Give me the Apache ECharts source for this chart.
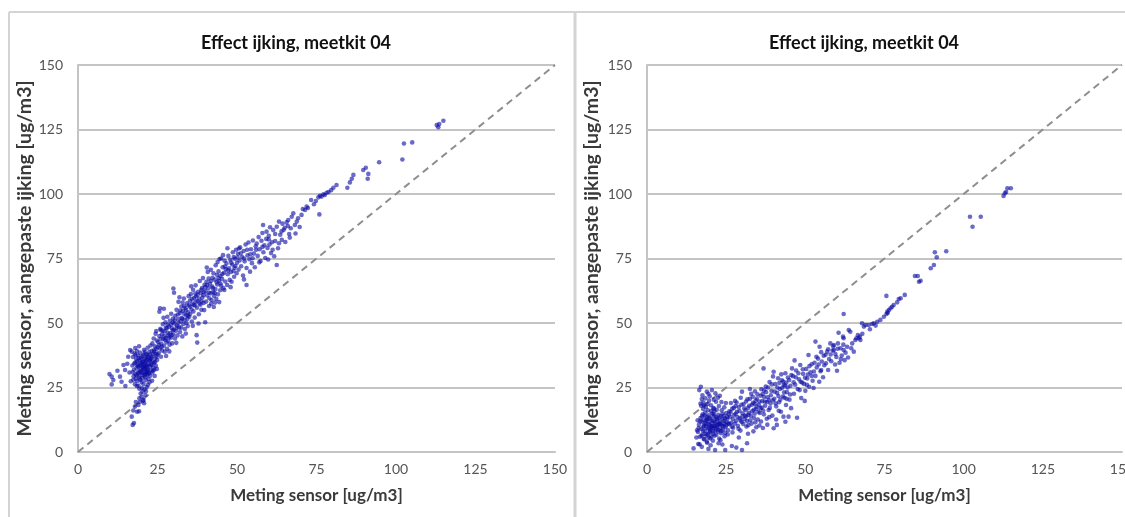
<!DOCTYPE html>
<html>
<head>
<meta charset="utf-8">
<script src="https://cdn.jsdelivr.net/npm/echarts@6/dist/echarts.min.js"></script>
<style>
  html, body { margin: 0; padding: 0; background: #ffffff; }
  #chart { width: 1125px; height: 517px; }
</style>
</head>
<body>
<div id="chart"></div>
<script>
// Two scatter panels: sensor reading (x) vs. reading with adjusted calibration (y)
const panelTitle = 'Effect ijking, meetkit 04';
const xAxisTitle = 'Meting sensor [ug/m3]';
const yAxisTitle = 'Meting sensor, aangepaste ijking [ug/m3]';
const axisMin = 0;
const axisMax = 150;
const axisStep = 25;
const identityLine = [[0, 0], [150, 150]];

// Left panel: [sensor, calibrated]
const leftPoints = [
  [9.9,30.2],[10.6,29.2],[11.1,27.9],[10.6,26.2],[13.7,27.2],[13.2,29.2],[14.8,31.8],[14.3,33.7],[16.4,39.5],[15.8,36.9],
  [16.9,38.9],[12.4,31.5],[14.9,25.6],[15.5,34.2],[16.2,30.8],[16.6,27.4],[17.2,10.5],[17.6,11.2],[16.9,13.7],[18.6,15.6],
  [17.9,17.6],[19.0,18.2],[19.5,19.5],[20.0,21.4],[19.7,22.7],[20.3,23.4],[20.8,18.9],[19.3,20.8],[17.4,16.1],[18.2,19.4],
  [20.6,20.2],[21.2,22.1],[20.9,24.2],[21.4,23.6],[20.1,24.8],[19.2,15.8],[21.6,25.2],[20.4,19.8],
  [17.1,33.5],[17.3,36.8],[17.5,29.4],[17.6,31.9],[17.8,38.2],[17.9,26.3],[18.0,34.7],[18.1,30.1],[18.2,28.4],[18.3,36.0],
  [18.4,32.6],[18.5,39.1],[18.6,27.5],[18.7,34.0],[18.8,30.9],[18.9,37.4],[19.0,25.8],[19.1,33.1],[19.2,29.3],[19.3,35.5],
  [19.4,31.4],[19.5,38.5],[19.6,27.9],[19.7,34.4],[19.8,32.2],[19.9,36.6],[17.4,28.0],[18.0,40.3],[18.6,35.2],[19.2,41.0],
  [20.0,30.6],[20.1,33.9],[20.2,28.7],[20.3,37.2],[20.4,31.8],[20.5,35.0],[20.6,26.4],[20.7,33.0],[20.8,39.6],[20.9,29.6],
  [21.0,36.1],[21.1,32.5],[21.2,34.6],[21.3,27.8],[21.4,38.0],[21.5,31.0],[21.6,35.8],[21.7,33.6],[21.8,29.9],[21.9,40.4],
  [22.0,32.0],[22.1,36.9],[22.2,34.2],[22.3,30.4],[22.4,38.7],[22.5,27.0],[22.6,35.4],[22.7,33.1],[22.8,41.3],[22.9,31.6],
  [20.2,34.8],[20.6,32.4],[21.0,30.2],[21.4,33.3],[21.8,37.5],[22.2,28.3],[20.9,31.1],[21.3,35.3],[21.7,31.7],[22.6,37.8],
  [23.0,36.4],[23.1,33.8],[23.2,39.2],[23.3,30.8],[23.4,42.1],[23.5,35.1],[23.6,37.9],[23.7,32.7],[23.8,44.0],[23.9,34.6],
  [24.0,38.8],[24.1,29.5],[24.2,41.0],[24.3,36.2],[24.4,45.8],[24.5,33.4],[24.6,39.9],[24.7,37.0],[24.8,43.2],[24.9,35.7],
  [25.0,40.6],[23.3,27.6],[24.0,31.9],[24.6,46.9],[25.0,37.8],
  [17.2,31.0],[17.7,34.3],[18.1,37.6],[18.4,29.7],[18.8,33.2],[19.1,36.4],[19.4,28.6],[19.7,31.0],[20.0,35.9],[20.3,29.9],
  [20.6,37.8],[20.9,34.0],[21.2,29.0],[21.5,36.6],[21.8,32.8],[22.1,30.9],[22.4,35.6],[22.7,29.6],[23.0,33.9],[23.3,37.0],
  [23.6,31.5],[23.9,39.4],[24.2,34.8],[24.5,38.1],[24.8,32.2],[19.0,30.4],[20.4,33.0],[21.6,30.4],[22.8,36.1],[19.6,33.6],
  [21.0,38.8],[18.5,25.6],[20.0,27.1],[22.0,26.0],[19.3,24.5],
  [25.2,42.6],[25.4,38.4],[25.6,44.9],[25.8,40.1],[25.6,54.4],[25.8,55.7],[26.0,47.3],[26.1,36.9],[26.2,42.0],[26.4,45.6],
  [26.5,39.3],[26.7,49.5],[26.8,43.8],[27.0,41.2],[27.0,55.5],[27.2,46.7],[27.3,38.9],[27.5,50.3],[27.6,44.2],[27.8,42.5],
  [27.9,47.9],[28.0,40.0],[28.1,52.4],[28.3,45.1],[28.4,43.0],[28.6,48.6],[28.8,41.6],[28.9,50.9],[29.0,46.0],[29.2,44.3],
  [29.3,53.6],[29.5,48.0],[29.6,42.1],[29.8,50.2],[30.0,63.4],[30.2,61.7],[30.0,45.5],[30.1,47.4],[25.9,47.8],[26.9,52.0],
  [27.4,43.5],[28.2,49.3],[28.7,39.0],[29.4,45.3],[26.3,40.8],[27.7,37.2],[29.9,51.7],
  [30.3,49.8],[30.5,44.0],[30.6,52.8],[30.8,47.0],[31.0,55.1],[31.1,49.0],[31.3,45.2],[31.5,51.5],[31.6,58.2],[31.8,48.3],
  [32.0,53.9],[32.1,46.5],[32.3,50.7],[32.5,56.4],[32.6,52.0],[32.8,44.8],[33.0,54.7],[33.1,49.6],[33.3,59.5],[33.5,51.2],
  [33.6,47.7],[33.8,55.8],[34.0,53.0],[34.1,50.0],[34.3,57.6],[34.5,48.8],[34.6,54.1],[34.8,60.4],[35.0,52.4],[30.9,42.3],
  [31.9,60.0],[32.9,57.9],[33.9,45.9],[34.9,56.9],[31.4,53.3],[32.4,48.2],[33.4,53.6],[34.4,51.6],
  [25.5,41.5],[26.0,43.9],[26.6,47.0],[27.1,44.9],[27.6,48.1],[28.2,46.2],[28.7,44.6],[29.2,49.4],[29.8,47.1],[30.4,51.0],
  [31.0,48.2],[31.6,50.0],[32.2,54.8],[32.8,51.6],[33.4,56.5],[34.0,55.0],[34.6,52.8],
  [35.2,58.6],[35.3,53.6],[35.5,61.2],[35.7,55.3],[35.8,50.6],[36.0,57.5],[36.2,62.9],[36.3,54.5],[36.5,59.7],[36.7,52.1],
  [36.8,56.8],[37.0,64.6],[37.1,60.3],[37.3,45.3],[37.5,42.4],[37.4,55.9],[37.6,58.5],[37.8,62.1],[38.0,53.4],[38.1,59.4],
  [38.3,66.3],[38.5,57.1],[38.6,61.6],[38.8,55.1],[39.0,63.5],[39.1,59.9],[39.3,67.4],[39.5,57.8],[39.6,61.9],[39.8,64.8],
  [40.0,50.3],[36.1,48.9],[36.9,61.4],[37.9,49.8],[38.9,58.4],[39.7,55.0],[35.6,64.2],
  [35.2,56.3],[35.8,59.3],[36.4,57.0],[37.0,58.2],[37.6,60.9],[38.2,57.6],[38.8,62.9],[39.4,60.8],
  [40.1,62.4],[40.3,58.3],[40.4,66.0],[40.6,60.7],[40.8,69.8],[41.0,63.6],[41.2,56.6],[41.3,59.6],[41.5,65.2],[41.7,61.5],
  [41.8,70.6],[42.0,58.9],[42.2,64.1],[42.3,67.5],[42.5,62.0],[42.7,56.2],[42.8,60.5],[43.0,66.8],[43.2,63.2],[43.3,72.4],
  [43.5,59.3],[43.7,68.7],[43.8,64.9],[44.0,61.1],[44.2,70.0],[44.3,66.4],[44.5,74.8],[44.7,62.7],[44.8,68.2],[45.0,75.0],
  [40.5,71.5],[41.9,57.5],[43.1,57.9],[44.4,58.1],[42.6,69.3],[41.1,67.2],[43.9,73.6],[45.0,64.4],
  [40.0,63.9],[40.6,64.7],[41.2,61.8],[41.8,66.3],[42.4,63.5],[43.0,61.6],[43.6,65.8],[44.2,67.4],[44.8,65.3],
  [45.3,67.1],[45.5,71.6],[45.7,63.5],[45.9,69.5],[46.1,74.1],[46.3,66.1],[46.5,70.8],[46.7,73.1],[46.9,64.7],[47.1,68.9],
  [47.3,76.0],[47.5,71.2],[47.7,66.7],[47.9,74.5],[48.1,69.8],[48.3,66.0],[48.5,72.7],[48.7,77.4],[48.9,70.2],[49.1,67.9],
  [49.3,74.9],[49.5,72.1],[49.7,78.4],[49.9,69.3],[46.0,62.8],[47.0,79.0],[48.0,63.9],[49.0,75.6],[50.0,73.4],[45.6,76.3],
  [45.4,69.0],[46.2,71.9],[47.2,70.4],[48.2,73.4],[49.2,71.4],
  [50.3,76.8],[50.5,70.7],[50.8,74.2],[51.0,79.3],[51.3,72.0],[51.6,75.6],[51.9,68.4],[52.1,77.9],[52.4,73.9],[52.7,80.4],
  [53.0,64.7],[53.0,71.3],[53.3,76.2],[53.6,81.2],[53.9,74.7],[54.1,69.9],[54.4,78.6],[54.7,73.2],[55.0,82.0],[55.3,76.9],
  [55.6,71.6],[55.9,79.7],[50.6,78.9],[52.2,66.9],[54.9,75.1],
  [50.2,75.4],[51.2,77.0],[52.2,75.0],[53.2,78.4],[54.2,76.6],
  [56.2,80.8],[56.5,76.0],[56.8,83.3],[57.1,78.6],[57.4,74.0],[57.7,81.9],[58.0,84.9],[58.3,77.4],[58.6,80.1],[58.9,75.2],
  [59.2,82.6],[59.3,85.4],[59.6,79.1],[60.0,83.8],[60.4,87.1],[60.7,77.1],[61.0,81.3],[61.4,86.0],[61.7,75.9],[62.0,84.5],
  [62.5,72.5],[62.5,87.3],[62.9,79.0],[63.2,80.9],[63.2,89.3],[57.0,73.5],[59.8,74.6],[61.2,78.4],[58.2,88.0],[60.2,80.4],
  [56.0,78.4],[58.0,79.5],[60.0,82.4],[62.0,81.8],
  [63.6,84.2],[64.1,82.2],[64.3,88.5],[64.7,86.1],[65.2,81.4],[65.6,89.0],[66.1,89.9],[66.4,84.5],[66.9,86.7],[67.2,91.2],
  [67.7,92.5],[68.2,88.0],[68.8,89.3],[68.4,84.7],[69.2,90.6],[69.7,87.2],[70.3,91.9],[70.7,94.2],[71.4,93.8],[71.9,95.1],
  [72.3,94.6],[73.3,97.7],[74.2,96.0],[65.0,86.9],[66.6,83.1],[64.0,85.5],[66.0,87.6],
  [75.6,98.7],[75.9,92.1],[76.1,99.3],[76.6,99.0],[77.2,99.9],[77.6,99.6],[78.2,100.5],[78.8,100.8],[79.6,101.5],[80.3,102.4],
  [81.3,103.5],[84.7,102.4],[85.5,104.5],[86.1,105.9],[86.6,107.4],[89.7,109.3],[90.5,110.2],[91.3,107.8],[91.1,105.9],[94.7,112.3],
  [102.0,113.4],[102.5,119.6],[105.1,120.0],[112.8,126.7],[113.3,125.9],[113.6,127.1],[114.9,128.4],[74.8,97.3]
];

// Right panel: [sensor, calibrated]
const rightPoints = [
  [17.0,25.3],[16.5,24.0],[18.9,23.4],[20.5,24.0],[17.3,20.5],[17.8,19.2],[18.4,20.8],[19.1,18.6],[19.6,19.9],[20.2,18.1],
  [17.1,17.9],[18.6,17.4],[21.1,20.3],[21.8,19.5],[22.4,21.0],[20.9,17.0],[16.9,18.8],[19.8,21.6],[22.7,17.8],[23.5,19.4],
  [14.7,1.4],[17.3,2.0],[21.5,0.8],[24.7,0.8],[30.0,0.8],[31.6,3.4],[26.8,2.3],[22.6,3.4],[18.9,4.0],[16.2,3.1],
  [15.6,5.6],[20.1,2.6],[19.4,1.2],[23.8,2.9],[28.2,1.7],
  [16.1,7.8],[16.4,10.6],[16.7,5.9],[16.9,13.2],[17.1,8.9],[17.3,11.7],[17.5,6.8],[17.6,14.6],[17.8,9.7],[18.0,12.4],
  [18.1,4.9],[18.3,8.1],[18.4,15.3],[18.6,10.9],[18.8,6.4],[18.9,13.6],[19.1,9.1],[19.2,11.9],[19.4,5.5],[19.5,14.2],
  [19.7,7.6],[19.8,10.4],[20.0,12.9],[20.1,8.6],[20.3,6.0],[20.4,11.2],[20.6,14.9],[20.7,9.4],[20.9,7.1],[21.0,12.2],
  [21.2,10.0],[21.3,15.7],[21.5,8.3],[21.6,11.5],[21.8,13.5],[21.9,6.7],[22.1,9.8],[22.2,12.6],[22.4,7.9],[22.5,14.4],
  [22.7,10.7],[22.8,5.2],[23.0,11.9],[23.1,9.0],[23.3,13.8],[23.4,7.3],[23.6,16.2],[23.7,10.3],[23.9,12.5],[24.0,8.7],
  [24.2,14.0],[24.3,11.0],[24.5,6.1],[24.6,13.1],[24.8,9.6],[25.0,15.1],[25.2,11.4],[25.4,12.8],[25.6,8.4],[25.8,14.5],
  [26.0,10.8],[16.6,3.0],[17.7,16.7],[19.0,3.6],[20.8,4.4],[22.0,16.4],[23.2,4.6],[24.4,17.3],[25.5,6.8],[18.2,11.0],
  [19.6,9.2],[21.4,9.9],[20.5,10.1],[19.9,8.0],[21.1,13.9],[22.9,11.1],[17.9,10.2],[20.2,15.9],[18.7,12.3],
  [16.3,9.3],[16.8,11.9],[17.2,6.3],[17.4,13.9],[17.7,8.2],[17.9,5.1],[18.2,14.1],[18.5,7.0],[18.7,9.9],[19.0,12.8],
  [19.3,6.9],[19.5,10.8],[19.8,13.3],[20.0,5.3],[20.3,9.7],[20.5,12.1],[20.8,8.0],[21.0,14.6],[21.3,6.3],[21.5,11.1],
  [21.8,9.0],[22.0,12.9],[22.3,10.4],[22.6,8.5],[22.9,13.4],[23.2,10.8],[23.5,8.1],[23.8,14.8],[24.1,10.0],[24.4,12.0],
  [24.7,7.4],[25.0,10.4],[25.3,13.6],[25.7,11.0],[26.0,15.8],[19.2,16.2],[21.2,16.8],[18.0,18.0],[19.4,22.6],[21.6,22.8],
  [17.5,22.0],[23.0,21.8],[24.9,19.0],[16.0,12.3],[15.8,8.4],
  [26.3,13.7],[26.6,11.3],[26.9,16.8],[27.2,9.4],[27.5,14.3],[27.8,19.8],[28.1,12.0],[28.4,15.6],[28.7,10.2],[29.0,17.4],
  [29.3,13.1],[29.6,21.0],[29.9,11.6],[30.2,15.0],[30.5,18.6],[30.8,12.7],[31.1,16.2],[31.4,9.9],[31.7,20.4],[32.0,14.4],
  [32.3,17.9],[32.6,12.3],[32.9,22.6],[33.2,15.8],[33.5,19.1],[33.8,13.2],[34.1,23.5],[34.4,16.6],[34.7,20.7],[35.0,12.6],
  [35.3,18.3],[35.6,15.1],[35.9,21.8],[27.0,7.6],[29.5,8.3],[31.9,7.1],[34.5,9.6],[30.0,23.4],[32.5,24.4],[28.0,17.8],
  [33.0,11.0],[35.5,10.3],[26.5,19.0],[31.3,13.8],[34.0,18.7],
  [26.4,15.5],[26.8,9.8],[27.1,12.8],[27.4,17.1],[27.7,11.0],[28.0,14.8],[28.3,19.2],[28.6,13.5],[28.9,9.0],[29.2,15.9],
  [29.5,12.2],[29.8,18.3],[30.1,13.8],[30.4,10.9],[30.7,16.9],[31.0,14.1],[31.3,19.6],[31.6,12.0],[31.9,17.1],[32.2,15.2],
  [32.5,20.6],[32.8,14.0],[33.1,18.3],[33.4,21.4],[33.7,16.4],[34.0,14.8],[34.3,19.9],[34.6,17.6],[34.9,22.4],[35.2,15.6],
  [35.5,19.6],[35.8,17.0],[34.2,11.5],[32.0,10.4],[29.0,5.6],[33.6,8.0],
  [36.2,17.2],[36.5,22.5],[36.8,32.4],[36.9,14.6],[37.2,19.6],[37.5,25.4],[37.8,12.9],[38.1,21.2],[38.4,16.3],[38.7,27.1],
  [39.0,18.8],[39.3,23.7],[39.6,14.1],[40.0,31.1],[40.0,9.2],[40.2,20.6],[40.5,26.3],[40.8,17.7],[41.0,10.5],[41.1,22.9],
  [41.4,28.6],[41.7,19.3],[42.0,24.4],[42.3,15.6],[42.6,27.8],[42.9,21.5],[43.1,13.7],[43.2,26.0],[43.7,11.7],[43.7,30.5],
  [43.9,18.2],[44.2,23.2],[44.5,28.9],[44.7,13.7],[45.0,20.3],[45.3,25.7],[45.8,32.4],[45.5,17.0],[38.0,10.6],[39.8,29.3],
  [42.4,30.1],[37.0,23.9],[41.6,16.0],[44.0,26.9],[43.4,21.0],
  [36.1,24.3],[36.4,19.7],[36.7,16.1],[37.0,21.3],[37.3,17.9],[37.6,23.2],[37.9,19.4],[38.2,25.0],[38.5,20.1],[38.8,17.1],
  [39.1,22.0],[39.4,26.2],[39.7,20.0],[40.3,23.4],[40.6,18.9],[41.2,25.0],[41.5,21.7],[41.8,26.8],[42.1,20.3],[42.7,24.9],
  [43.0,27.3],[43.3,23.1],[43.6,25.8],[44.1,20.6],[44.4,25.0],[44.9,27.9],[45.2,22.3],[45.6,29.8],[36.0,11.8],[38.6,13.5],
  [40.8,12.6],[36.6,9.3],
  [46.1,29.4],[46.4,22.6],[46.8,26.1],[47.1,31.6],[47.4,13.3],[47.6,24.4],[48.0,28.2],[48.4,33.7],[48.7,20.9],[49.0,26.9],
  [49.3,30.3],[49.6,26.4],[50.0,23.7],[50.3,32.2],[50.6,28.5],[51.0,37.6],[51.2,25.3],[51.6,30.9],[52.0,34.0],[52.3,27.6],
  [52.9,34.6],[53.2,42.8],[53.2,29.5],[53.6,32.8],[54.0,36.2],[54.5,40.8],[54.4,27.2],[54.8,31.3],[55.2,35.1],[55.6,29.0],
  [56.0,33.6],[46.6,35.5],[49.8,19.8],[52.6,24.8],[55.0,38.7],[48.2,24.0],[50.8,30.0],
  [46.3,27.0],[47.0,29.0],[47.8,30.5],[48.5,27.2],[49.2,32.1],[49.9,28.8],[50.5,26.0],[51.3,33.3],[52.0,29.5],[52.7,31.2],
  [53.5,36.9],[54.2,33.9],[55.0,31.8],[55.8,37.3],
  [56.4,37.7],[56.9,38.9],[57.2,31.8],[57.9,42.1],[58.2,35.2],[58.6,39.3],[59.0,41.5],[59.0,39.5],[59.4,33.9],[59.8,36.8],
  [60.2,40.0],[60.5,46.2],[60.8,34.6],[61.1,40.2],[61.5,37.4],[61.9,44.7],[62.1,44.1],[62.1,39.5],[62.1,53.5],[62.7,38.5],
  [63.2,40.8],[63.7,47.3],[63.5,36.6],[64.2,46.6],[64.8,42.1],[65.3,38.9],[65.8,43.4],[66.1,44.1],[66.6,45.3],[66.9,44.1],
  [57.5,36.0],[60.0,31.5],[62.4,35.6],[64.5,40.2],[56.5,34.4],[57.2,39.8],[58.0,37.8],[58.8,41.0],[59.5,38.0],[60.3,42.1],
  [61.2,36.0],[62.0,41.6],
  [67.2,44.7],[67.4,43.4],[67.9,49.9],[68.5,48.6],[69.0,49.2],[70.0,49.2],[70.4,47.6],[71.1,49.6],[71.6,49.9],[72.7,50.5],
  [73.7,51.2],[74.8,52.4],[75.6,53.5],[75.6,60.5],[75.9,54.4],[76.4,55.0],[76.9,55.7],[77.4,56.3],[77.9,57.0],[79.0,58.0],
  [79.5,59.3],[80.1,59.6],[81.4,60.9],[68.0,45.8],[72.2,49.0],[76.0,53.9],
  [84.6,68.2],[85.5,68.2],[85.9,66.0],[86.4,66.4],[89.6,71.2],[90.6,72.5],[90.9,77.4],[91.5,75.5],[94.5,77.8],[102.0,91.2],
  [102.8,87.3],[105.4,91.2],[112.6,99.2],[113.0,100.3],[113.4,100.8],[113.8,102.2],[114.9,102.2]
];

const FONT = 'Lato, "Open Sans", sans-serif';
const gridColor = '#c4c4c4';
const frameColor = '#d4d4d4';
const dotColor = 'rgba(10, 10, 165, 0.76)';

const panels = [
  { left: 78, width: 477, titleX: 291, yNameGap: 40 },
  { left: 647, width: 475, titleX: 859, yNameGap: 45 }
];

function makeXAxis(i) {
  return {
    type: 'value', gridIndex: i, min: axisMin, max: axisMax, interval: axisStep,
    name: xAxisTitle, nameLocation: 'middle', nameGap: 35,
    nameTextStyle: { fontFamily: FONT, fontWeight: 'bold', fontSize: 17, color: '#3a3a3a' },
    axisLine: { show: true, lineStyle: { color: gridColor, width: 2 } },
    axisTick: { show: false },
    axisLabel: {
      fontFamily: FONT, fontSize: 14, color: '#555555', margin: 10,
      alignMinLabel: 'center', alignMaxLabel: 'center'
    },
    splitLine: { show: false }
  };
}

function makeYAxis(i) {
  return {
    type: 'value', gridIndex: i, min: axisMin, max: axisMax, interval: axisStep,
    name: yAxisTitle, nameLocation: 'middle', nameGap: panels[i].yNameGap, nameRotate: 90,
    nameTextStyle: { fontFamily: FONT, fontWeight: 'bold', fontSize: 19.5, color: '#3a3a3a' },
    axisLine: { show: true, lineStyle: { color: gridColor, width: 2 } },
    axisTick: { show: false },
    axisLabel: { fontFamily: FONT, fontSize: 14, color: '#555555', margin: 15 },
    splitLine: { show: true, lineStyle: { color: gridColor, width: 2 } }
  };
}

function makeSeries(i, points) {
  return [
    {
      type: 'line', xAxisIndex: i, yAxisIndex: i, data: identityLine,
      symbol: 'none', silent: true, z: 1,
      lineStyle: { color: '#8e8e8e', width: 2, type: [7, 5] }
    },
    {
      type: 'scatter', xAxisIndex: i, yAxisIndex: i, data: points,
      symbol: 'circle', symbolSize: 4.6, z: 2,
      itemStyle: { color: dotColor }
    }
  ];
}

const chart = echarts.init(document.getElementById('chart'), null, { renderer: 'canvas' });
chart.setOption({
  backgroundColor: '#ffffff',
  animation: false,
  title: panels.map(p => ({
    text: panelTitle, left: p.titleX, top: 29, textAlign: 'center',
    textStyle: { fontFamily: FONT, fontWeight: 'bold', fontSize: 18, color: '#111111' }
  })),
  grid: panels.map(p => ({ left: p.left, width: p.width, top: 65, height: 387, outerBoundsMode: 'none' })),
  xAxis: [makeXAxis(0), makeXAxis(1)],
  yAxis: [makeYAxis(0), makeYAxis(1)],
  series: [...makeSeries(0, leftPoints), ...makeSeries(1, rightPoints)],
  graphic: [
    { type: 'line', shape: { x1: 9, y1: 12, x2: 1125, y2: 12 }, style: { stroke: frameColor, lineWidth: 2 } },
    { type: 'line', shape: { x1: 9, y1: 12, x2: 9, y2: 517 }, style: { stroke: frameColor, lineWidth: 2 } },
    { type: 'line', shape: { x1: 575, y1: 12, x2: 575, y2: 517 }, style: { stroke: frameColor, lineWidth: 3 } }
  ]
});
</script>
</body>
</html>
